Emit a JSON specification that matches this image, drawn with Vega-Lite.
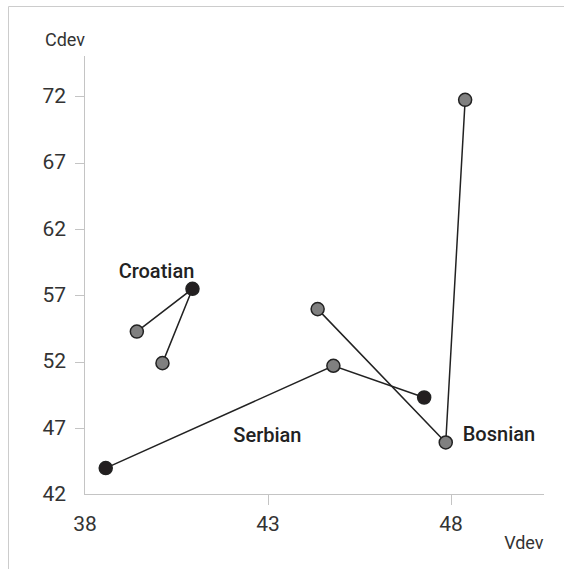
{
  "$schema": "https://vega.github.io/schema/vega-lite/v6.json",
  "width": 557,
  "height": 564,
  "autosize": {"type": "none"},
  "padding": {"left": 8, "top": 6, "right": 0, "bottom": 0},
  "background": "white",
  "config": {
    "view": {"stroke": "#cccccc", "strokeWidth": 1},
    "font": "Roboto"
  },
  "data": {
    "values": [
      {"language": "Croatian", "step": 1, "vdev": 39.43, "cdev": 54.28, "highlight": "no"},
      {"language": "Croatian", "step": 2, "vdev": 40.95, "cdev": 57.5, "highlight": "yes"},
      {"language": "Croatian", "step": 3, "vdev": 40.13, "cdev": 51.9, "highlight": "no"},
      {"language": "Serbian", "step": 1, "vdev": 38.58, "cdev": 43.99, "highlight": "yes"},
      {"language": "Serbian", "step": 2, "vdev": 44.8, "cdev": 51.7, "highlight": "no"},
      {"language": "Serbian", "step": 3, "vdev": 47.28, "cdev": 49.31, "highlight": "yes"},
      {"language": "Bosnian", "step": 1, "vdev": 44.37, "cdev": 55.97, "highlight": "no"},
      {"language": "Bosnian", "step": 2, "vdev": 47.87, "cdev": 45.92, "highlight": "no"},
      {"language": "Bosnian", "step": 3, "vdev": 48.4, "cdev": 71.74, "highlight": "no"}
    ]
  },
  "layer": [
    {
      "mark": {"type": "line", "color": "#222222", "strokeWidth": 1.5},
      "encoding": {
        "x": {
          "field": "vdev", "type": "quantitative",
          "scale": {"domain": [35.9098, 51.1284], "nice": false, "zero": false},
          "axis": {
            "title": "Vdev", "values": [38, 43, 48], "domain": false, "grid": false,
            "offset": -75.5, "tickSize": 10, "tickColor": "#c4c4c4",
            "tickOpacity": {"condition": {"test": "datum.value == 38", "value": 0}, "value": 1},
            "labelFontSize": 21, "labelColor": "#333333", "labelPadding": 9, "labelFont": "Roboto",
            "titleFont": "Roboto", "titleFontSize": 18, "titleFontWeight": "normal", "titleColor": "#333333",
            "titleAlign": "right", "titleBaseline": "alphabetic", "titleX": 535, "titleY": 53.5
          }
        },
        "y": {
          "field": "cdev", "type": "quantitative",
          "scale": {"domain": [36.3105, 78.8125], "nice": false, "zero": false},
          "axis": {
            "title": "Cdev", "values": [42, 47, 52, 57, 62, 67, 72], "domain": false, "grid": false,
            "offset": -76.5, "tickSize": 10, "tickColor": "#c4c4c4",
            "tickOpacity": {"condition": {"test": "datum.value == 42", "value": 0}, "value": 1},
            "labelFontSize": 21, "labelColor": "#333333", "labelPadding": 9, "labelFont": "Roboto",
            "titleFont": "Roboto", "titleFontSize": 18, "titleFontWeight": "normal", "titleColor": "#333333",
            "titleAngle": 0, "titleAlign": "right", "titleBaseline": "alphabetic", "titleX": 0, "titleY": 39
          }
        },
        "detail": {"field": "language"},
        "order": {"field": "step"}
      }
    },
    {
      "mark": {"type": "rule", "color": "#c4c4c4", "strokeWidth": 1},
      "encoding": {
        "x": {"datum": 38, "type": "quantitative"},
        "x2": {"datum": 50.54},
        "y": {"datum": 42, "type": "quantitative"}
      }
    },
    {
      "mark": {"type": "rule", "color": "#c4c4c4", "strokeWidth": 1},
      "encoding": {
        "x": {"datum": 38, "type": "quantitative"},
        "y": {"datum": 42, "type": "quantitative"},
        "y2": {"datum": 75}
      }
    },
    {
      "mark": {"type": "point", "filled": true, "size": 170, "stroke": "#222222", "strokeWidth": 1.5, "opacity": 1},
      "encoding": {
        "x": {"field": "vdev", "type": "quantitative"},
        "y": {"field": "cdev", "type": "quantitative"},
        "color": {
          "field": "highlight", "type": "nominal",
          "scale": {"domain": ["no", "yes"], "range": ["#808080", "#231f20"]},
          "legend": null
        }
      }
    },
    {
      "transform": [{"filter": "datum.language == 'Croatian' && datum.step == 2"}],
      "mark": {"type": "text", "font": "Roboto", "fontSize": 20, "fontWeight": 500, "color": "#222222", "align": "center", "baseline": "alphabetic", "dx": -36, "dy": -10.7},
      "encoding": {
        "x": {"field": "vdev", "type": "quantitative"},
        "y": {"field": "cdev", "type": "quantitative"},
        "text": {"field": "language"}
      }
    },
    {
      "transform": [{"filter": "datum.language == 'Serbian' && datum.step == 2"}],
      "mark": {"type": "text", "font": "Roboto", "fontSize": 20, "fontWeight": 500, "color": "#222222", "align": "center", "baseline": "alphabetic", "dx": -66, "dy": 76},
      "encoding": {
        "x": {"field": "vdev", "type": "quantitative"},
        "y": {"field": "cdev", "type": "quantitative"},
        "text": {"field": "language"}
      }
    },
    {
      "transform": [{"filter": "datum.language == 'Bosnian' && datum.step == 2"}],
      "mark": {"type": "text", "font": "Roboto", "fontSize": 20, "fontWeight": 500, "color": "#222222", "align": "left", "baseline": "alphabetic", "dx": 17, "dy": -1},
      "encoding": {
        "x": {"field": "vdev", "type": "quantitative"},
        "y": {"field": "cdev", "type": "quantitative"},
        "text": {"field": "language"}
      }
    }
  ]
}
